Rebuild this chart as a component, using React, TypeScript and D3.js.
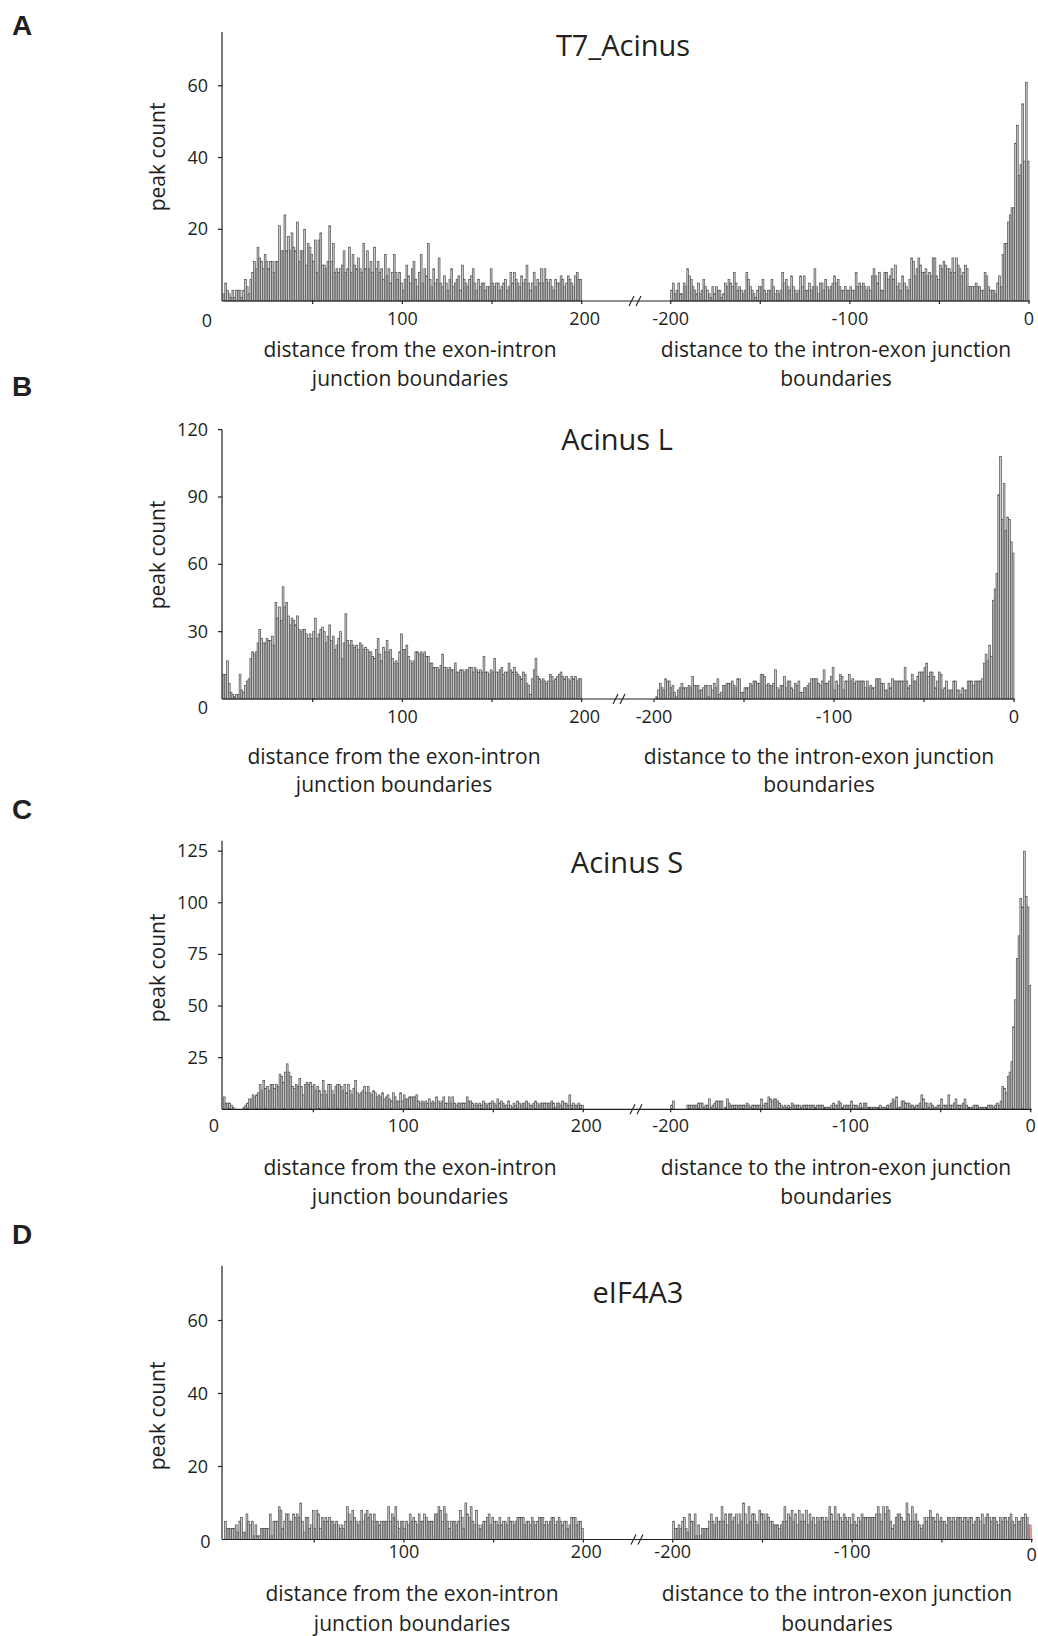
import React from "react";
import * as d3 from "d3";

// ---------- DATA (peak counts per 1-nt bin) ----------
// Panel A: T7_Acinus
const aLeft = [
  2,5,3,2,1,3,1,3,3,3,1,3,6,4,2,6,8,11,9,15,
  12,11,9,13,11,9,11,11,8,11,11,21,14,14,24,14,18,14,19,15,
  14,22,11,14,14,20,10,16,15,13,11,17,8,17,19,10,10,9,11,21,
  11,16,8,9,8,9,10,14,8,9,15,8,13,10,9,12,9,8,16,9,
  14,9,11,8,15,9,11,8,9,6,13,7,9,5,8,13,8,6,8,5,
  3,6,10,7,5,9,11,6,4,8,13,5,9,7,16,6,4,9,5,6,
  12,5,4,7,5,3,6,9,4,5,6,7,3,10,6,5,4,6,7,9,
  5,3,6,4,5,5,3,4,4,9,5,4,5,5,3,4,5,6,3,4,
  8,5,8,6,5,4,7,5,6,10,5,3,5,8,4,6,5,9,5,9,
  6,5,6,4,3,6,5,5,7,6,4,5,7,6,5,4,7,8,6,6,
];
const aRight = [
  3,5,2,3,5,2,2,5,4,9,7,6,4,3,2,5,2,3,6,4,
  3,2,1,4,2,4,3,3,1,2,5,4,6,5,4,8,5,3,4,3,
  2,3,8,6,4,3,2,1,3,4,4,6,3,2,3,3,6,4,2,3,
  2,3,8,5,6,4,3,7,4,3,2,3,7,4,7,3,3,5,3,4,
  9,4,2,5,5,3,6,4,3,4,5,7,5,6,4,3,3,4,3,3,
  4,3,3,8,4,5,4,5,4,3,4,3,7,9,7,5,8,3,3,8,
  8,6,7,9,6,10,4,5,3,7,5,4,3,6,12,11,7,9,12,10,
  8,8,9,7,8,7,12,12,7,6,10,9,11,10,9,9,8,12,8,12,
  10,9,7,8,10,9,4,4,4,4,5,4,4,3,3,8,7,4,3,3,
  3,2,5,7,4,13,16,16,22,24,26,26,44,49,35,38,55,39,61,39,
];
// Panel B: Acinus L
const bLeft = [
  11,11,17,7,3,2,1,2,2,11,4,3,6,8,9,18,21,20,21,25,
  31,27,25,25,27,26,26,28,24,43,36,41,35,50,41,43,37,33,36,35,
  33,37,31,30,31,31,29,27,29,27,30,36,27,29,31,32,30,25,28,33,
  26,28,22,24,27,30,18,25,38,26,24,26,24,23,24,22,25,24,22,23,
  22,21,21,19,18,22,27,20,17,23,21,26,21,22,18,16,17,16,21,29,
  22,22,24,19,17,16,17,21,21,20,21,20,21,19,19,16,16,14,14,14,
  13,15,20,14,14,13,14,13,13,16,12,12,13,13,12,13,13,14,14,12,
  14,13,12,13,12,19,12,12,11,13,12,18,12,12,13,14,11,12,12,16,
  13,12,14,12,11,10,9,12,11,7,6,2,9,13,18,10,9,8,9,8,
  7,8,11,10,8,9,10,11,12,10,9,10,9,8,10,9,10,8,9,9,
];
const bRight = [
  0,1,4,7,5,4,9,8,8,5,6,3,1,4,5,7,5,5,5,6,
  5,10,6,6,6,4,4,5,6,6,1,6,4,7,5,9,2,3,6,6,
  7,7,7,8,6,5,9,9,3,3,5,5,5,7,6,8,8,7,7,11,
  11,10,6,7,6,6,7,13,5,4,6,6,10,5,8,8,5,4,7,6,
  8,3,3,5,5,6,7,9,9,9,9,7,6,8,13,7,7,8,10,14,
  4,8,6,11,10,4,8,8,11,8,9,7,8,8,8,8,8,5,8,5,
  6,5,5,9,9,9,7,7,4,4,7,5,9,8,8,8,8,8,8,14,
  8,5,6,11,8,8,10,12,12,12,14,16,10,12,12,10,5,8,12,11,
  4,5,8,4,4,4,8,8,4,4,2,5,4,4,8,8,8,6,8,8,
  8,8,9,16,20,17,24,19,44,49,56,91,108,80,96,75,81,80,70,65,
];
// Panel C: Acinus S
const cLeft = [
  6,3,3,3,2,1,0,0,0,0,0,1,2,3,5,5,7,6,7,8,
  12,9,14,10,11,9,12,12,10,12,11,17,16,13,18,22,18,16,11,10,
  12,11,15,11,7,12,13,12,13,11,12,9,11,9,7,14,9,7,12,12,
  9,7,11,12,12,11,9,12,8,12,9,7,10,14,8,7,8,9,11,8,
  11,8,7,9,8,6,7,6,8,5,6,7,5,4,8,6,4,4,8,4,
  7,5,5,6,6,6,6,7,4,3,4,3,4,3,5,3,4,3,6,4,
  3,4,6,3,3,6,3,6,3,2,3,3,3,3,3,6,4,4,3,2,
  3,2,3,2,4,3,2,3,3,4,3,2,5,3,4,3,2,2,4,2,
  1,3,2,4,3,2,3,3,4,3,2,2,3,4,3,2,3,3,3,3,
  3,3,4,3,1,3,3,2,4,3,3,2,7,2,3,2,2,3,2,2,
];
const cRight = [
  2,4,0,0,0,0,0,0,0,2,2,2,2,2,2,3,3,3,1,2,
  2,5,1,2,3,4,4,4,4,0,1,5,3,2,2,2,2,2,2,2,
  2,2,3,2,1,2,2,2,2,2,5,2,3,3,6,5,4,5,5,4,
  3,2,1,2,1,2,1,3,2,2,2,2,1,2,2,2,2,2,2,2,
  1,2,2,2,2,1,1,1,1,2,3,2,2,4,3,1,2,2,2,2,
  4,2,2,2,1,3,1,3,3,1,1,1,1,1,1,1,2,1,1,1,
  2,2,3,5,4,6,1,1,4,4,3,3,3,2,2,1,2,2,3,7,
  5,3,3,1,3,2,1,1,2,2,5,2,2,2,7,2,2,3,5,2,
  2,2,3,5,2,1,1,1,2,2,2,1,1,1,1,1,2,2,2,1,
  2,3,2,4,11,10,8,16,18,23,40,53,73,84,102,98,125,103,98,60,
];
// Panel D: eIF4A3
const dLeft = [
  5,3,3,3,3,3,4,2,5,6,2,2,7,5,4,5,1,4,1,1,
  3,3,3,3,3,7,1,5,5,5,9,8,3,5,7,7,5,5,7,6,
  7,6,10,5,2,6,6,3,4,8,3,8,7,3,6,5,6,5,6,5,
  5,4,5,4,3,4,3,5,9,7,5,8,6,5,4,5,8,5,7,8,
  6,7,5,7,5,5,4,5,5,5,5,9,5,7,6,9,5,3,5,5,
  3,5,4,7,5,6,5,4,7,5,5,7,6,5,5,5,5,7,7,9,
  8,5,9,7,5,3,5,5,5,4,5,8,6,3,10,7,6,9,5,4,
  8,4,3,4,5,5,6,7,4,6,5,5,4,6,4,5,5,4,6,5,
  5,4,5,6,6,6,6,4,5,5,4,6,5,4,5,6,6,6,4,5,
  4,5,6,6,4,5,6,5,4,5,5,3,4,6,6,6,4,5,5,3,
];
const dRight = [
  5,3,3,4,3,5,6,3,2,7,5,5,7,1,4,1,3,3,3,3,
  5,7,5,4,6,5,5,9,5,7,4,7,7,5,6,7,4,7,5,10,
  7,4,9,5,7,7,5,4,8,7,7,5,7,6,5,5,4,4,4,3,
  4,5,9,5,7,6,8,5,7,4,8,5,7,5,8,4,7,5,6,4,
  6,5,6,6,5,6,5,9,7,5,9,5,7,6,5,7,6,5,6,4,
  7,5,4,6,5,7,6,6,6,6,6,6,6,7,9,7,5,9,7,9,
  8,5,3,4,6,7,7,6,5,5,10,7,5,9,5,7,5,4,3,4,
  6,5,6,8,6,6,5,7,5,6,5,5,4,6,6,5,6,5,6,6,
  6,5,6,6,5,6,6,4,5,6,6,5,7,4,6,7,6,5,6,6,
  5,4,6,5,6,6,5,6,7,5,4,6,5,5,6,6,7,6,4,3,
];
const dHighlight = [4]; // small pink bar at position 0

const titles = ["T7_Acinus", "Acinus L", "Acinus S", "eIF4A3"];
const letters = ["A", "B", "C", "D"];
const yTicksA = [20, 40, 60];
const yTicksB = [30, 60, 90, 120];
const yTicksC = [25, 50, 75, 100, 125];
const yTicksD = [20, 40, 60];
const yMaxes = [75, 120, 130, 75];
const leftTickVals = [50, 100, 150, 200];
const rightTickVals = [-200, -150, -100, -50, 0];
const leftLabelVals = [100, 200];
const rightLabelVals = [-200, -100, 0];
const xLabelLeft = ["distance from the exon-intron", "junction boundaries"];
const xLabelRight = ["distance to the intron-exon junction", "boundaries"];
const yLabel = "peak count";

// ---------- LAYOUT ----------
type Geo = {
  base: number; top: number; lx0: number; lx1: number; rx0: number; rx1: number;
  titleX: number; titleY: number; letterY: number; yLabY: number;
  xl1: number; xl2: number; xlL: number; xlR: number; tickY: number;
  zeroX: number; zeroY: number; brk: number;
};
const geos: Geo[] = [
  { base: 301, top: 32, lx0: 223, lx1: 581.7, rx0: 670.7, rx1: 1029, titleX: 623, titleY: 56, letterY: 35, yLabY: 157,
    xl1: 357, xl2: 386, xlL: 410, xlR: 836, tickY: 325, zeroX: 207, zeroY: 327, brk: 635 },
  { base: 699, top: 429.6, lx0: 223, lx1: 581.7, rx0: 654, rx1: 1014, titleX: 617, titleY: 450, letterY: 396, yLabY: 555,
    xl1: 764, xl2: 792, xlL: 394, xlR: 819, tickY: 723, zeroX: 203, zeroY: 714, brk: 619 },
  { base: 1109.3, top: 840.8, lx0: 223.3, lx1: 583.3, rx0: 670.7, rx1: 1030.7, titleX: 627, titleY: 873, letterY: 819, yLabY: 968,
    xl1: 1175, xl2: 1204, xlL: 410, xlR: 836, tickY: 1131.5, zeroX: 214, zeroY: 1131.5, brk: 636 },
  { base: 1539.5, top: 1265.75, lx0: 224.5, lx1: 583.3, rx0: 672.7, rx1: 1031.7, titleX: 638, titleY: 1303, letterY: 1244, yLabY: 1416,
    xl1: 1601, xl2: 1631, xlL: 412, xlR: 837, tickY: 1558, zeroX: 205.5, zeroY: 1548, brk: 637 },
];

const FONT = "'Open Sans', 'Noto Sans', sans-serif";
const INK = "#231f20";
const AXIS_X = 222;

function Panel({ idx, left, right, yTicks, extra }: { idx: number; left: number[]; right: number[]; yTicks: number[]; extra?: number[] }) {
  const g = geos[idx];
  const y = d3.scaleLinear().domain([0, yMaxes[idx]]).range([g.base, g.top]);
  const xl = d3.scaleLinear().domain([0, 200]).range([g.lx0, g.lx1]);
  const xr = d3.scaleLinear().domain([-200, 0]).range([g.rx0, g.rx1]);
  const barFill = "#cccccc";
  const barStroke = "#505050";
  const sw = 0.7;
  const bars = (vals: number[], sx: d3.ScaleLinear<number, number>, start: number, key: string) =>
    vals.map((v, i) => {
      if (v <= 0) return null;
      const x0 = sx(start + i);
      const x1 = sx(start + i + 1);
      return (
        <rect key={key + i} x={x0} y={y(v)} width={x1 - x0} height={g.base - y(v)}
          fill={barFill} stroke={barStroke} strokeWidth={sw} />
      );
    });
  return (
    <g>
      <text x={12} y={g.letterY} fontFamily="'Liberation Sans', Arial, sans-serif" fontWeight="bold" fontSize={28} fill={INK}>{letters[idx]}</text>
      <text x={g.titleX} y={g.titleY} textAnchor="middle" fontFamily={FONT} fontSize={29} fill={INK}>{titles[idx]}</text>
      {bars(left, xl, 0, "l")}
      {bars(right, xr, -200, "r")}
      {extra && extra.map((v, i) => (
        <rect key={"e" + i} x={xr(-1)} y={y(v)} width={xr(0) - xr(-1)} height={g.base - y(v)} fill="#f3a3a3" stroke="#e88" strokeWidth={0.5} />
      ))}
      {/* y axis */}
      <line x1={AXIS_X} x2={AXIS_X} y1={g.top} y2={g.base} stroke={INK} strokeWidth={1.2} />
      {yTicks.map((t) => (
        <g key={"yt" + t}>
          <line x1={AXIS_X - 4} x2={AXIS_X} y1={y(t)} y2={y(t)} stroke={INK} strokeWidth={1.2} />
          <text x={208} y={y(t) + 6} textAnchor="end" fontFamily={FONT} fontSize={18} fill={INK}>{t}</text>
        </g>
      ))}
      {/* x axis */}
      <line x1={AXIS_X} x2={g.rx1 + 1} y1={g.base} y2={g.base} stroke={INK} strokeWidth={1.2} />
      {leftTickVals.map((t) => (
        <line key={"lt" + t} x1={xl(t)} x2={xl(t)} y1={g.base} y2={g.base + 3} stroke={INK} strokeWidth={1.2} />
      ))}
      {rightTickVals.map((t) => (
        <line key={"rt" + t} x1={xr(t)} x2={xr(t)} y1={g.base} y2={g.base + 3} stroke={INK} strokeWidth={1.2} />
      ))}
      <line x1={g.brk - 6} y1={g.base + 5} x2={g.brk - 1} y2={g.base - 5} stroke={INK} strokeWidth={1.1} />
      <line x1={g.brk + 1} y1={g.base + 5} x2={g.brk + 6} y2={g.base - 5} stroke={INK} strokeWidth={1.1} />
      <text x={g.zeroX} y={g.zeroY} textAnchor="middle" fontFamily={FONT} fontSize={18} fill={INK}>0</text>
      {leftLabelVals.map((t) => (
        <text key={"ll" + t} x={xl(t) + (t === 200 ? 3 : 0)} y={g.tickY} textAnchor="middle" fontFamily={FONT} fontSize={18} fill={INK}>{t}</text>
      ))}
      {rightLabelVals.map((t) => (
        <text key={"rl" + t} x={xr(t)} y={g.tickY + (idx === 3 && t === 0 ? 3 : 0)} textAnchor="middle" fontFamily={FONT} fontSize={18} fill={INK}>{t}</text>
      ))}
      {/* axis titles */}
      <text transform={`translate(165,${g.yLabY}) rotate(-90)`} textAnchor="middle" fontFamily={FONT} fontSize={21} fill={INK}>{yLabel}</text>
      <text x={g.xlL} y={g.xl1} textAnchor="middle" fontFamily={FONT} fontSize={21} fill={INK}>{xLabelLeft[0]}</text>
      <text x={g.xlL} y={g.xl2} textAnchor="middle" fontFamily={FONT} fontSize={21} fill={INK}>{xLabelLeft[1]}</text>
      <text x={g.xlR} y={g.xl1} textAnchor="middle" fontFamily={FONT} fontSize={21} fill={INK}>{xLabelRight[0]}</text>
      <text x={g.xlR} y={g.xl2} textAnchor="middle" fontFamily={FONT} fontSize={21} fill={INK}>{xLabelRight[1]}</text>
    </g>
  );
}

export default function App() {
  return (
    <svg width={1038} height={1636} viewBox="0 0 1038 1636"
      style={{ position: "absolute", left: 0, top: 0, display: "block", background: "#fff" }}>
      <rect x={0} y={0} width={1038} height={1636} fill="#fff" />
      <Panel idx={0} left={aLeft} right={aRight} yTicks={yTicksA} />
      <Panel idx={1} left={bLeft} right={bRight} yTicks={yTicksB} />
      <Panel idx={2} left={cLeft} right={cRight} yTicks={yTicksC} />
      <Panel idx={3} left={dLeft} right={dRight} yTicks={yTicksD} extra={dHighlight} />
    </svg>
  );
}
